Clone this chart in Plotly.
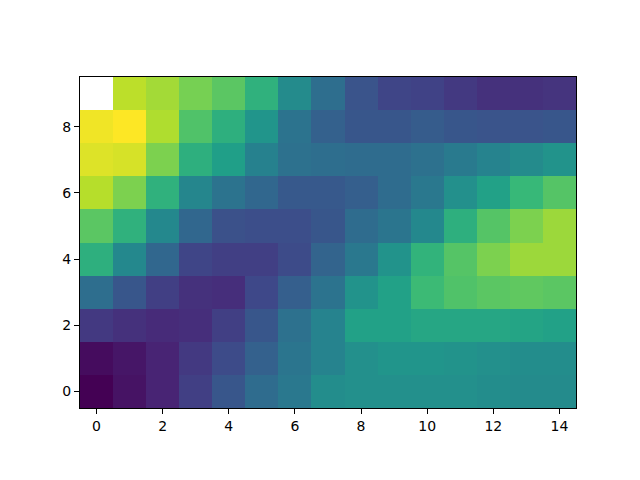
import plotly.graph_objects as go

x_vals = list(range(15))
y_vals = list(range(10))

row0 = [0.00, 0.05, 0.10, 0.19, 0.27, 0.35, 0.40, 0.49, 0.50, 0.50, 0.50, 0.50, 0.49, 0.48, 0.48]
row1 = [0.03, 0.06, 0.10, 0.17, 0.23, 0.31, 0.39, 0.45, 0.50, 0.52, 0.52, 0.51, 0.50, 0.49, 0.49]
row2 = [0.17, 0.14, 0.12, 0.13, 0.19, 0.27, 0.37, 0.45, 0.57, 0.57, 0.59, 0.59, 0.59, 0.58, 0.57]
row3 = [0.36, 0.27, 0.19, 0.14, 0.13, 0.22, 0.30, 0.38, 0.51, 0.57, 0.68, 0.72, 0.74, 0.75, 0.74]
row4 = [0.63, 0.47, 0.33, 0.21, 0.19, 0.19, 0.23, 0.32, 0.40, 0.51, 0.65, 0.73, 0.80, 0.85, 0.85]
row5 = [0.74, 0.64, 0.47, 0.33, 0.25, 0.24, 0.24, 0.27, 0.35, 0.39, 0.47, 0.63, 0.73, 0.80, 0.85]
row6 = [0.89, 0.80, 0.64, 0.46, 0.38, 0.33, 0.28, 0.28, 0.30, 0.35, 0.40, 0.50, 0.57, 0.67, 0.73]
row7 = [0.95, 0.94, 0.80, 0.63, 0.56, 0.44, 0.37, 0.36, 0.35, 0.35, 0.37, 0.41, 0.45, 0.48, 0.51]
row8 = [0.98, 1.00, 0.88, 0.72, 0.63, 0.52, 0.38, 0.31, 0.27, 0.27, 0.29, 0.27, 0.26, 0.26, 0.27]
row9 = [None, 0.90, 0.86, 0.79, 0.74, 0.64, 0.48, 0.36, 0.26, 0.21, 0.20, 0.17, 0.14, 0.14, 0.15]

z = [row0, row1, row2, row3, row4, row5, row6, row7, row8, row9]

fig = go.Figure(go.Heatmap(
    x=x_vals, y=y_vals, z=z,
    colorscale="Viridis", zmin=0, zmax=1,
    showscale=False, hoverongaps=False,
))

axis_common = dict(
    showgrid=False, zeroline=False,
    showline=True, linecolor="black", linewidth=1, mirror=True,
    ticks="outside", ticklen=5, tickcolor="black", tickwidth=1,
    tickfont=dict(family="DejaVu Sans", size=14, color="black"),
)

fig.update_layout(
    width=640, height=480,
    margin=dict(l=72, r=72, t=69, b=80),
    paper_bgcolor="white", plot_bgcolor="white",
    xaxis=dict(range=[-0.5, 14.5], tickmode="array", tickvals=[0, 2, 4, 6, 8, 10, 12, 14], **axis_common),
    yaxis=dict(range=[-0.5, 9.5], tickmode="array", tickvals=[0, 2, 4, 6, 8], **axis_common),
)

fig.write_html("out.html")
